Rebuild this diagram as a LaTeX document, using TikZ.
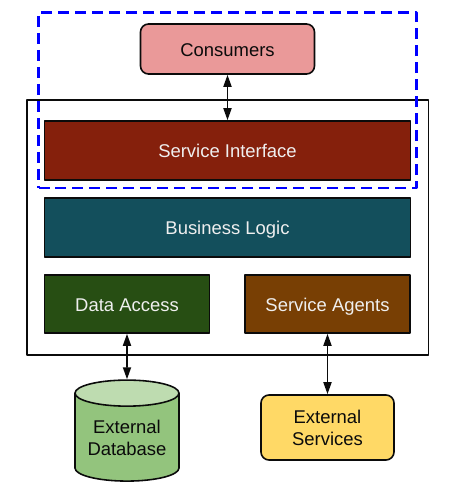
\documentclass[tikz,border=0pt]{standalone}
\usepackage{fontspec}
\setmainfont{Liberation Sans}
\usepackage{tikz}
\usetikzlibrary{arrows.meta,shapes.geometric}
\definecolor{consumer}{HTML}{EA9999}
\definecolor{service}{HTML}{85200C}
\definecolor{business}{HTML}{134F5C}
\definecolor{data}{HTML}{274E13}
\definecolor{agent}{HTML}{783F04}
\definecolor{store}{HTML}{93C47D}
\definecolor{storetop}{HTML}{BEDCB0}
\definecolor{external}{HTML}{FFD966}
\definecolor{ink}{HTML}{0B0B0B}
\definecolor{paper}{HTML}{EFEFEF}
\tikzset{
  >={Triangle[length=2.4mm,width=1.6mm]},
  every picture/.style={line cap=butt, line join=round},
  box/.style={draw=ink, align=center, font=\fontsize{10.5}{12.5}\selectfont, text=ink, line width=0.9pt, inner sep=0pt},
  oneline/.style={text height=9pt, text depth=0.9pt},
  layer/.style={box, oneline, fill=#1, text=paper},
  rounded/.style={box, fill=#1, rounded corners=1.6mm},
  arr/.style={<->, draw=ink, line width=1pt},
  tier/.style={draw=ink, line width=0.9pt, minimum width=8.03cm, minimum height=5.1cm},
  scopebox/.style={draw=blue, line width=1.7pt, dash pattern=on 0.22cm off 0.12cm, minimum width=7.56cm, minimum height=3.51cm},
  dbase/.style={box, cylinder, shape border rotate=90, aspect=0.33, cylinder uses custom fill,
    cylinder body fill=store, cylinder end fill=storetop, minimum width=2.08cm, minimum height=2.02cm},
}
\begin{document}
\begin{tikzpicture}
  \useasboundingbox (0,0) rectangle (9.3,9.92);
  % outer tier
  \node[tier] (tier) at (4.555,5.37) {};
  % layers
  \node[rounded=consumer, oneline, minimum width=3.48cm, minimum height=1.0cm] (consumers) at (4.55,8.94) {Consumers};
  \node[layer=service, minimum width=7.32cm, minimum height=1.18cm] (iface) at (4.55,6.91) {Service Interface};
  \node[layer=business, minimum width=7.32cm, minimum height=1.18cm] (logic) at (4.55,5.37) {Business Logic};
  \node[layer=data, minimum width=3.3cm, minimum height=1.16cm] (access) at (2.54,3.84) {Data Access};
  \node[layer=agent, minimum width=3.3cm, minimum height=1.16cm] (agents) at (6.55,3.84) {Service Agents};
  % externals
  \node[dbase] (db) at (2.54,1.17) {External\\ Database};
  \node[rounded=external, minimum width=2.66cm, minimum height=1.3cm] (ext) at (6.55,1.37) {External\\ Services};
  % highlight
  \node[scopebox] (focus) at (4.55,7.915) {};
  % connectors
  \draw[arr] (consumers.south) -- (iface.north);
  \draw[arr] (access.south) -- (db.north);
  \draw[arr] (agents.south) -- (ext.north);
\end{tikzpicture}
\end{document}
